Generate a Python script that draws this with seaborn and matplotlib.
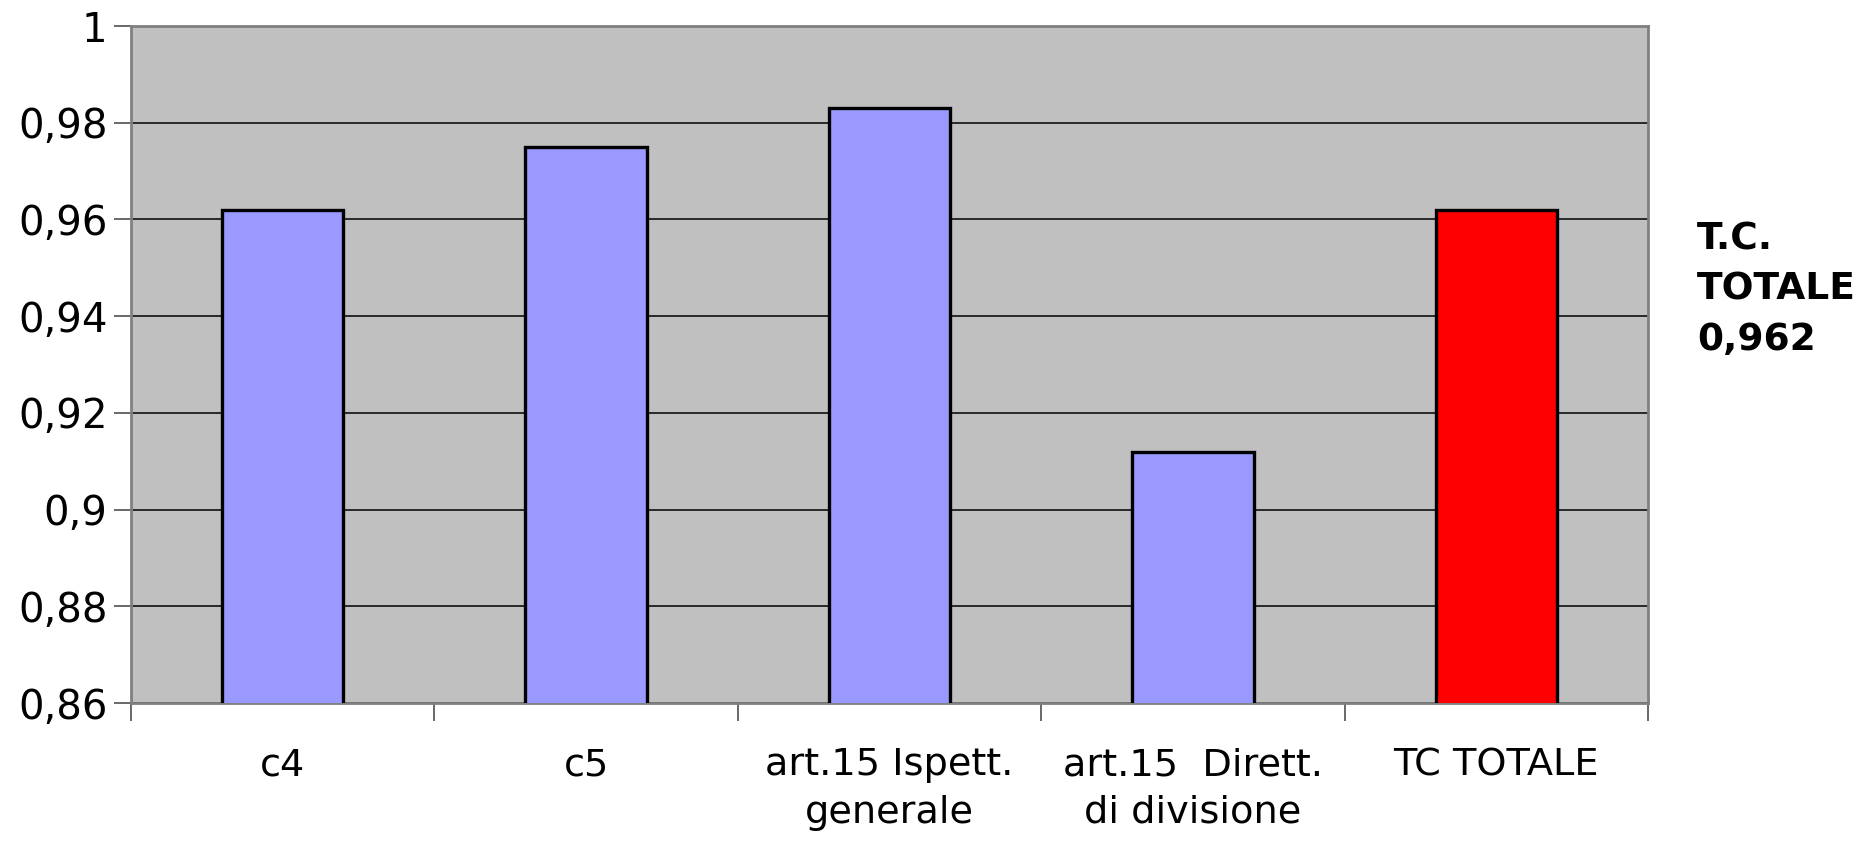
import matplotlib
matplotlib.use("Agg")
import matplotlib.pyplot as plt
import seaborn as sns
import numpy as np
from matplotlib.ticker import FixedLocator, FuncFormatter

categories = ["c4", "c5", "art.15 Ispett.\ngenerale", "art.15  Dirett.\ndi divisione", "TC TOTALE"]
values = [0.962, 0.975, 0.983, 0.912, 0.962]
bar_colors = ["#9999FF", "#9999FF", "#9999FF", "#9999FF", "#FF0000"]
y_ticks = [0.86, 0.88, 0.90, 0.92, 0.94, 0.96, 0.98, 1.00]
note_text = "T.C.\nTOTALE\n0,962"

sns.set_theme(style="white")
plt.rcParams["font.family"] = ["DejaVu Sans"]

fig = plt.figure(figsize=(18.63, 8.41), dpi=100)
ax = fig.add_axes([131/1863, 1-703/841, (1648-131)/1863, (703-26)/841])
ax.set_facecolor("#C0C0C0")

sns.barplot(x=categories, y=values, hue=categories, palette=bar_colors,
            width=0.4, edgecolor="black", linewidth=2.4, legend=False,
            saturation=1, ax=ax, zorder=3)

ax.set_ylim(0.86, 1.0)
ax.set_xlim(-0.5, len(categories) - 0.5)
ax.yaxis.set_major_locator(FixedLocator(y_ticks))
ax.yaxis.set_major_formatter(FuncFormatter(lambda v, p: ("%g" % round(v, 2)).replace(".", ",")))
ax.grid(axis="y", color="black", linewidth=1.1)
ax.set_axisbelow(True)
ax.set_xlabel("")
ax.set_ylabel("")

for s in ax.spines.values():
    s.set_color("#808080")
    s.set_linewidth(2)
    s.set_visible(True)

ax.tick_params(axis="y", which="major", direction="out", length=12, width=1.1,
               color="#404040", left=True, labelsize=29, pad=5, labelcolor="black")
ax.tick_params(axis="x", which="major", length=0, labelsize=27.5, pad=32, labelcolor="black")
ax.xaxis.set_minor_locator(FixedLocator(np.arange(-0.5, len(categories), 1.0)))
ax.tick_params(axis="x", which="minor", direction="out", length=13, width=1.1,
               color="#404040", bottom=True)
for lbl in ax.get_xticklabels():
    lbl.set_linespacing(1.4)

fig.text(1697/1863, 1-290/841, note_text, fontsize=27, fontweight="bold",
         ha="left", va="center", linespacing=1.5, color="black")

fig.savefig("out.png", dpi=100)
